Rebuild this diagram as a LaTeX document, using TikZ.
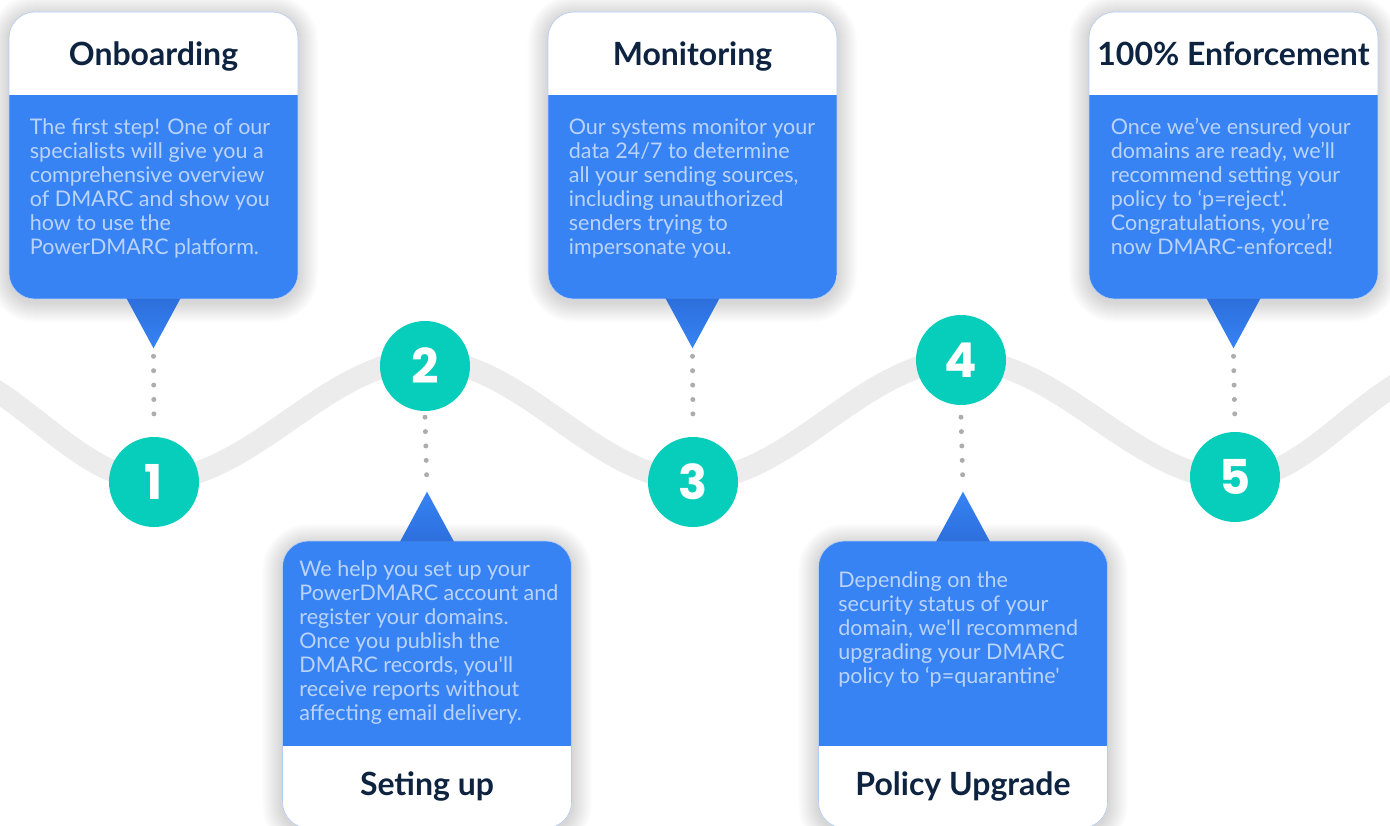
\documentclass[tikz,border=0pt]{standalone}
\usepackage{fontspec}
\setmainfont{Lato}[Ligatures=TeXOff]
\newfontfamily\numfont{Poppins}
\usetikzlibrary{calc,backgrounds}
\definecolor{cblue}{HTML}{3783F4}
\definecolor{cdark}{HTML}{2C6FDC}
\definecolor{cteal}{HTML}{07CDBB}
\definecolor{cnavy}{HTML}{0D2340}
\definecolor{clight}{HTML}{BAD3FA}
\definecolor{cwave}{HTML}{ECECEC}
\definecolor{cdot}{HTML}{ADADAD}
\definecolor{cedge}{HTML}{B3CCF6}
\tikzset{
  card/.style={rectangle, rounded corners=26pt, minimum width=289pt, minimum height=287pt,
    inner sep=0pt, fill=white, draw=cedge, line width=0.6pt},
  cardtop/.style={card, path picture={\fill[cblue, sharp corners] ([yshift=-83pt]path picture bounding box.north west) rectangle (path picture bounding box.south east);}},
  cardbot/.style={card, path picture={\fill[cblue, sharp corners] (path picture bounding box.north west) rectangle ([yshift=-205pt]path picture bounding box.north east);}},
  cardtitle/.style={anchor=base, inner sep=0pt, text=cnavy, font=\fontsize{32}{36}\selectfont\bfseries},
  cardbody/.style={anchor=base west, inner sep=0pt, align=left, text=clight, font=\fontsize{21.5}{24}\selectfont},
  num/.style={circle, fill=cteal, minimum size=90pt, inner sep=0pt, text=white, font=\numfont\fontsize{48}{48}\selectfont\bfseries},
  dotline/.style={cdot, line width=5pt, line cap=round, dash pattern=on 0pt off 14.39pt},
  ptrdown/.style={top color=cdark, bottom color=cblue},
  ptrup/.style={top color=cblue, bottom color=cdark},
  softshade/.style={black, opacity=0.0095},
}
\begin{document}
\begin{tikzpicture}[x=1pt,y=-1pt]
\useasboundingbox (0,0) rectangle (1390,826);
% wave
\draw[cwave, line width=22pt]
  (-8,388) .. controls (50,425) and (95,480) .. (154,480)
  .. controls (252,480) and (327,360) .. (425,360)
  .. controls (522,360) and (596,480) .. (693,480)
  .. controls (790,480) and (864,360) .. (961,360)
  .. controls (1060,360) and (1136,479) .. (1235,479)
  .. controls (1295,479) and (1340,418) .. (1400,382);
% circles
\node[num] (c1) at (154,482) {1};
\node[num] (c2) at (425,366) {2};
\node[num] (c3) at (693,482) {3};
\node[num] (c4) at (961,360) {4};
\node[num] (c5) at (1235,477) {5};
% cards
\node[cardtop] (b1) at (153.5,155.5) {};
\node[cardtop] (b3) at (692.5,155.5) {};
\node[cardtop] (b5) at (1233.5,155.5) {};
\node[cardbot] (b2) at (427,684.5) {};
\node[cardbot] (b4) at (963,684.5) {};
% soft shadows behind everything
\begin{scope}[on background layer]
\fill[white] (0,0) rectangle (1390,826);
\foreach \b in {b1,b2,b3,b4,b5}{
  \foreach \i in {1,...,20}{
    \pgfmathsetmacro\rr{26+\i}
    \fill[softshade, rounded corners=\rr pt] ($(\b.north west)+(-\i,-\i+3)$) rectangle ($(\b.south east)+(\i,\i+3)$);
  }
}
\end{scope}
% pointers
\foreach \b/\t in {b1/t1,b3/t3,b5/t5}{
  \coordinate (\t) at ($(\b.south)+(0,49)$);
  \shade[ptrdown] ($(\b.south)+(-27,-1)$) -- ($(\b.south)+(27,-1)$) -- (\t) -- cycle;
}
\foreach \b/\t in {b2/t2,b4/t4}{
  \coordinate (\t) at ($(\b.north)+(0,-49)$);
  \shade[ptrup] ($(\b.north)+(-27,1)$) -- ($(\b.north)+(27,1)$) -- (\t) -- cycle;
}
% dotted connectors
\draw[dotline] ([yshift=-8pt]t1) -- ([yshift=9pt]c1.north);
\draw[dotline] ([yshift=-6pt]c2.south) -- ([yshift=3pt]t2);
\draw[dotline] ([yshift=-8pt]t3) -- ([yshift=9pt]c3.north);
\draw[dotline] ([yshift=-12pt]c4.south) -- ([yshift=3pt]t4);
\draw[dotline] ([yshift=-8pt]t5) -- ([yshift=4pt]c5.north);
% titles
\node[cardtitle] (h1) at ([yshift=-54pt]b1.north) {Onboarding};
\node[cardtitle] (h3) at ([yshift=-54pt]b3.north) {Monitoring};
\node[cardtitle] (h5) at ([yshift=-54pt]b5.north) {100\% Enforcement};
\node[cardtitle] (h2) at ([yshift=-255pt]b2.north) {Seting up};
\node[cardtitle] (h4) at ([yshift=-255pt]b4.north) {Policy Upgrade};
% bodies (anchored at the baseline of the last line)
\node[cardbody] (x1) at ([xshift=21pt,yshift=-243pt]b1.north west) {The first step! One of our\\specialists will give you a\\comprehensive overview\\of DMARC and show you\\how to use the\\PowerDMARC platform.};
\node[cardbody] (x3) at ([xshift=21pt,yshift=-243pt]b3.north west) {Our systems monitor your\\data 24/7 to determine\\all your sending sources,\\including unauthorized\\senders trying to\\impersonate you.};
\node[cardbody] (x5) at ([xshift=22pt,yshift=-243pt]b5.north west) {Once we’ve ensured your\\domains are ready, we’ll\\recommend setting your\\policy to ‘p=reject'.\\Congratulations, you’re\\now DMARC-enforced!};
\node[cardbody] (x2) at ([xshift=17pt,yshift=-180pt]b2.north west) {We help you set up your\\PowerDMARC account and\\register your domains.\\Once you publish the\\DMARC records, you'll\\receive reports without\\affecting email delivery.};
\node[cardbody] (x4) at ([xshift=20pt,yshift=-143pt]b4.north west) {Depending on the\\security status of your\\domain, we'll recommend\\upgrading your DMARC\\policy to ‘p=quarantine'};
\end{tikzpicture}
\end{document}
